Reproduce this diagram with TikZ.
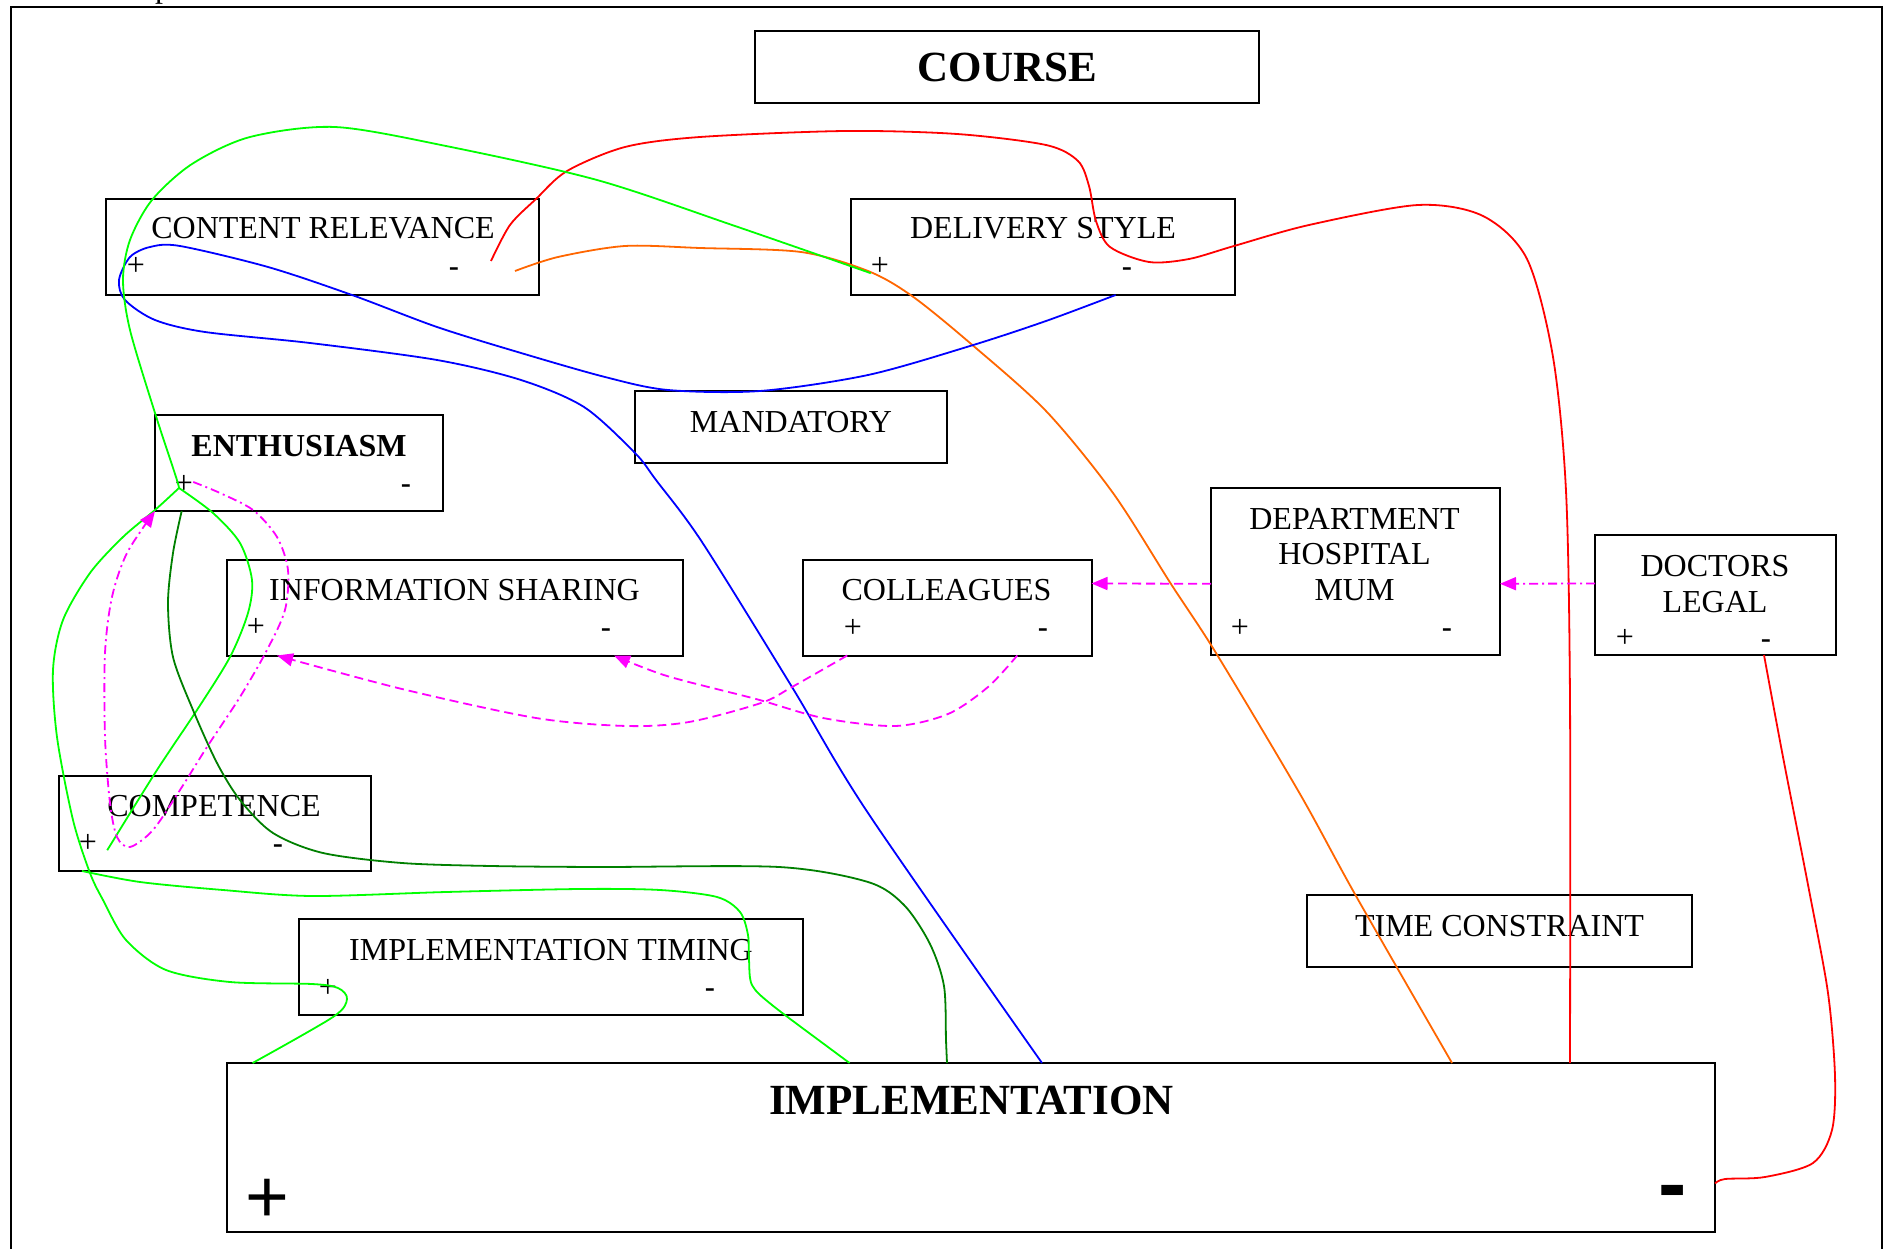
\documentclass[tikz,border=0pt]{standalone}
\usepackage{fontspec}
\setmainfont{Liberation Serif}
\newfontfamily\sansfont{Liberation Sans}
\usetikzlibrary{arrows.meta}

\definecolor{lgreen}{RGB}{0,255,0}
\definecolor{dgreen}{RGB}{0,128,0}
\definecolor{lorange}{RGB}{255,102,0}
\definecolor{lmagenta}{RGB}{255,0,255}

\tikzset{
	box/.style={draw, line width=2pt, rectangle, inner sep=0pt, outer sep=0pt},
	boxtext/.style={font=\fontsize{32}{36}\selectfont, anchor=base, inner sep=0pt, align=center},
	boldtext/.style={font=\fontsize{43}{48}\selectfont\bfseries, anchor=base, inner sep=0pt},
	plusmark/.style={font=\fontsize{32}{36}\selectfont, anchor=base, inner sep=0pt},
	minusmark/.style={font=\sansfont\fontsize{32}{36}\selectfont, anchor=base, inner sep=0pt},
	link/.style={line width=1.8pt},
	infl/.style={lmagenta, line width=1.8pt, -{Triangle[length=16pt,width=13pt]}},
}

\begin{document}
\begin{tikzpicture}[x=1pt,y=-1pt]
		\path[use as bounding box, fill=white] (0,0) rectangle (1883,1249);
		\node[boxtext, anchor=base west] (cut) at (155,-2.5) {p};
		\draw[line width=2pt] (10.5,1260) -- (10.5,7) -- (1881.5,7) -- (1881.5,1260);
		
		% boxes
		\node[box, minimum width=504pt, minimum height=72pt] (course) at (1007,67) {};
		\node[box, minimum width=433pt, minimum height=96pt] (cr) at (322.5,247) {};
		\node[box, minimum width=384pt, minimum height=96pt] (ds) at (1043,247) {};
		\node[box, minimum width=312pt, minimum height=72pt] (mand) at (791,427) {};
		\node[box, minimum width=288pt, minimum height=96pt] (ent) at (299,463) {};
		\node[box, minimum width=456pt, minimum height=96pt] (info) at (455,607.5) {};
		\node[box, minimum width=288.5pt, minimum height=96pt] (coll) at (947.25,607.5) {};
		\node[box, minimum width=289pt, minimum height=167.5pt] (dept) at (1355.5,571.25) {};
		\node[box, minimum width=241pt, minimum height=120pt] (doc) at (1715.5,595) {};
		\node[box, minimum width=311.5pt, minimum height=95pt] (comp) at (214.75,823.5) {};
		\node[box, minimum width=504pt, minimum height=96pt] (it) at (551,967) {};
		\node[box, minimum width=385pt, minimum height=72pt] (tc) at (1499.5,931) {};
		\node[box, minimum width=1488pt, minimum height=169pt] (impl) at (971,1147.5) {};
		
		% texts
		\node[boldtext] (courseT) at (1007.5,82) {COURSE};
		\node[boxtext] (crT) at (323,239) {CONTENT RELEVANCE};
		\node[boxtext] (dsT) at (1043,239) {DELIVERY STYLE};
		\node[boxtext] (mandT) at (791,432) {MANDATORY};
		\node[boxtext, font=\fontsize{32}{36}\selectfont\bfseries] (entT) at (299,456) {ENTHUSIASM};
		\node[boxtext] (infoT) at (454.5,600) {INFORMATION SHARING};
		\node[boxtext] (collT) at (946.5,600) {COLLEAGUES};
		\node[boxtext, font=\fontsize{32}{35.5}\selectfont] (deptT) at (1354.5,600) {DEPARTMENT\\HOSPITAL\\MUM};
		\node[boxtext] (docT) at (1715,612) {DOCTORS\\LEGAL};
		\node[boxtext] (compT) at (214,816) {COMPETENCE};
		\node[boxtext] (itT) at (551,960) {IMPLEMENTATION TIMING};
		\node[boxtext] (tcT) at (1499.5,936) {TIME CONSTRAINT};
		\node[boldtext] (implT) at (971.5,1114) {IMPLEMENTATION};
		
		% + and - of each box
		\node[plusmark] (crP) at (136,276) {+};
		\node[minusmark] (crM) at (454,278) {-};
		\node[plusmark] (dsP) at (880,276) {+};
		\node[minusmark] (dsM) at (1127,278) {-};
		\node[plusmark] (entP) at (184,493) {+};
		\node[minusmark] (entM) at (406,494) {-};
		\node[plusmark] (infoP) at (256,636) {+};
		\node[minusmark] (infoM) at (606,638) {-};
		\node[plusmark] (collP) at (853,637) {+};
		\node[minusmark] (collM) at (1043,638) {-};
		\node[plusmark] (deptP) at (1240,637) {+};
		\node[minusmark] (deptM) at (1447,638) {-};
		\node[plusmark] (docP) at (1625,647.5) {+};
		\node[minusmark] (docM) at (1766,649) {-};
		\node[plusmark] (compP) at (88,852) {+};
		\node[minusmark] (compM) at (278,854) {-};
		\node[plusmark] (itP) at (328,997) {+};
		\node[minusmark] (itM) at (710,998) {-};
		\node[plusmark, font=\sansfont\fontsize{75}{80}\selectfont] (implP) at (267,1222) {+};
		\node[minusmark, font=\sansfont\bfseries\fontsize{85}{90}\selectfont] (implM) at (1673,1212) {-};
		
		\coordinate (entV) at (179,488);
		
		% red
		\draw[red, link] plot[smooth, tension=0.5] coordinates {([xshift=-48pt,yshift=-14pt]cr.east) (510,225) (536,199) (567,171) (625,147) (700,137) (845,131) (957,134) (1046,145) (1078,161) (1089,186) (1096,221) (1110,247) (1149,262) (1189,259) (1234,246) (1309,225) (1418,205) (1483,216) (1527,259) (1553,357) (1566,491) (1570,700) ([xshift=599pt]impl.north)};
		\draw[red, link] plot[smooth, tension=0.5] coordinates {([xshift=48.5pt]doc.south) (1783,757) (1809,890) (1828,993) (1835,1076) (1832,1130) (1813,1163) (1765,1177) (1725,1179) ([yshift=-36pt]impl.east)};
		
		% orange
		\draw[lorange, link] plot[smooth, tension=0.5] coordinates {([xshift=-24pt,yshift=-24pt]cr.east) (558,257) (625,246) (700,248) (801,252) (868,271) (912,296) (970,343) (1046,411) (1113,493) (1171,584) (1216,653) (1300,794) (1356,896) ([xshift=481pt]impl.north)};
		
		% blue
		\draw[blue, link] plot[smooth, tension=0.5] coordinates {([xshift=72.6pt]ds.south) (1046,321) (970,346) (868,375) (760,391) (668,390) (605,377) (521,353) (437,327) (352,295) (268,267) (180,246) (150,247) (130,257) (119,280) (125,300) (155,320) (205,332) (310,343) (437,360) (521,380) (584,407) (635,453) (656,480) (702,542) (792,687) (868,813) ([xshift=71pt]impl.north)};
		
		% green
		\draw[lgreen, link] plot[smooth, tension=0.5] coordinates {([yshift=3pt]dsP.south west) (735,226) (597,180) (446,146) (335,127) (250,137) (192,164) (152,200) (130,240) (123,280) (130,330) (155,413) (176,477) (entV)};
		\draw[lgreen, link] plot[smooth, tension=0.5] coordinates {(entV) (155,510) (123,537) (90,573) (63,620) (53,670) (57,737) (73,820) (90,873) (103,900) (126,940) (166,970) (230,982) (312,984) (338,988) (347,999) (333,1017) ([xshift=25.6pt]impl.north west)};
		\draw[lgreen, link] plot[smooth, tension=0.5] coordinates {(entV) (213,513) (240,543) (252,580) (248,613) (230,657) (197,710) (157,770) ([xshift=10pt,yshift=2pt]compP.south east)};
		\draw[lgreen, link] plot[smooth, tension=0.5] coordinates {([xshift=23pt]comp.south west) (140,882) (223,890) (312,896) (446,892) (580,889) (660,890) (717,897) (740,912) (748,935) (749,960) (752,985) (772,1005) (832,1050) ([xshift=622.6pt]impl.north west)};
		\draw[dgreen, link] plot[smooth, tension=0.5] coordinates {([xshift=26.7pt]ent.south west) (173,553) (168,603) (173,657) (193,710) (217,763) (240,800) (273,833) (323,853) (402,863) (491,866) (600,867) (779,867) (868,882) (904,905) (930,944) (944,986) (946,1040) ([xshift=720pt]impl.north west)};
		
		% magenta influences
		\draw[infl, dash pattern=on 9pt off 4pt on 2pt off 4pt] plot[smooth, tension=0.5] coordinates {([yshift=2pt]entP.east) (220,493) (253,510) (277,537) (288,570) (285,610) (267,650) (240,697) (207,747) (180,790) (153,830) (130,847) (117,837) (110,803) (105,737) (105,653) (112,597) (127,553) (ent.south west)};
		\draw[infl, dash pattern=on 9pt off 4pt on 2pt off 4pt] ([yshift=11.5pt]doc.west) -- ([yshift=-12.5pt]dept.east);
		\draw[infl, dash pattern=on 9pt off 5pt] ([yshift=-12.5pt]dept.west) -- ([yshift=24pt]coll.east);
		\draw[infl, dash pattern=on 9pt off 5pt] plot[smooth, tension=0.5] coordinates {([xshift=-100pt]coll.south) (792,687) (761,703) (689,722) (627,726) (536,718) (402,689) ([xshift=-178pt]info.south)};
		\draw[infl, dash pattern=on 9pt off 5pt] plot[smooth, tension=0.5] coordinates {([xshift=70pt]coll.south) (988,687) (948,714) (895,726) (823,718) (756,699) (667,676) ([xshift=159pt]info.south)};
		
	\end{tikzpicture}
\end{document}
